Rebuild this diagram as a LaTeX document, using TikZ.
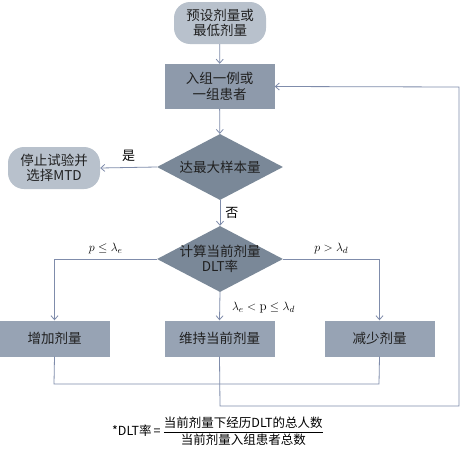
\documentclass[tikz,border=0pt]{standalone}
\usepackage{amsmath}
\usepackage{fontspec}
\newfontfamily\cjk{Noto Sans CJK SC}
\usetikzlibrary{shapes.geometric,arrows.meta}
\definecolor{lightbox}{HTML}{B8C1CC}
\definecolor{midbox}{HTML}{8E9AAB}
\definecolor{darkdia}{HTML}{7A8898}
\definecolor{lowbox}{HTML}{97A3B4}
\definecolor{linec}{HTML}{7F8CAB}
\definecolor{txt}{HTML}{202020}
\tikzset{
  x=1pt, y=-1pt,
  boxfont/.style={font=\cjk\fontsize{13.5}{15.5}\selectfont},
  stadium/.style={draw=none, fill=lightbox, rounded corners=16pt, minimum width=92pt, minimum height=42pt, align=center, boxfont, text=txt, inner sep=0pt},
  rectbox/.style={draw=none, fill=midbox, minimum width=110pt, minimum height=45pt, align=center, boxfont, text=txt, inner sep=0pt},
  lowrect/.style={draw=none, fill=lowbox, minimum width=110pt, minimum height=36pt, align=center, boxfont, text=txt, inner sep=0pt},
  dia/.style={diamond, draw=none, fill=darkdia, minimum width=126pt, minimum height=66pt, inner sep=0pt},
  diatext/.style={align=center, boxfont, text=txt, inner sep=0pt},
  conn/.style={draw=linec, line width=0.8pt, -{Straight Barb[length=4pt,width=7pt]}},
  plain/.style={draw=linec, line width=0.8pt},
  lab/.style={font=\fontsize{13}{15}\selectfont, inner sep=0pt},
  cjklab/.style={font=\cjk\fontsize{13}{15}\selectfont, inner sep=0pt}
}
\begin{document}
\begin{tikzpicture}
\useasboundingbox (0,0) rectangle (461,450);
\fill[white] (0,0) rectangle (461,450);

\node[stadium] (start) at (220,23) {预设剂量或\\最低剂量};
\node[rectbox] (enroll) at (219.5,86.5) {入组一例或\\一组患者};
\node[dia] (d1) at (220,167) {};
\node[diatext] (d1t) at (220,167) {达最大样本量};
\node[stadium] (stop) at (54,168) {停止试验并\\选择MTD};
\node[dia] (d2) at (220,259) {};
\node[diatext] (d2t) at (220,259) {计算当前剂量\\DLT率};
\node[lowrect] (inc) at (54.5,338.5) {增加剂量};
\node[lowrect] (keep) at (219.5,338.5) {维持当前剂量};
\node[lowrect] (dec) at (379.5,338.5) {减少剂量};

\coordinate (jl) at (54,384);
\coordinate (jr) at (379,384);
\coordinate (m1) at (220,406);
\coordinate (m2) at (459,406);
\coordinate (m3) at (459,87);

\draw[conn] (start) -- (enroll);
\draw[conn] (enroll) -- (d1);
\draw[conn] (d1.west) -- (stop.east) node[cjklab, midway, above=6pt] (yes) {是};
\draw[conn] (d1.south) -- (d2.north) node[cjklab, midway, right=5pt] (no) {否};
\draw[conn] (d2.west) -| (inc.north) node[lab, pos=0.25, above=5pt] (l1) {$p \le \lambda_e$};
\draw[conn] (d2.east) -| (dec.north) node[lab, pos=0.25, above=5pt] (l3) {$p > \lambda_d$};
\draw[conn] (d2.south) -- (keep.north) node[lab, pos=0.55, right=12pt] (l2) {$\lambda_e < \mathrm{p} \le \lambda_d$};

\draw[plain] (inc.south) -- (jl) -- (jr) -- (dec.south);
\draw[conn] (keep.south) -- (m1) -- (m2) -- (m3) -- (enroll.east);

\node[font=\cjk\fontsize{12.5}{14}\selectfont, inner sep=0pt] (formula) at (218,431)
  {*DLT率\,=\,$\dfrac{\text{\cjk\fontsize{12.5}{14}\selectfont 当前剂量下经历DLT的总人数}}{\text{\cjk\fontsize{12.5}{14}\selectfont 当前剂量入组患者总数}}$};
\end{tikzpicture}
\end{document}
